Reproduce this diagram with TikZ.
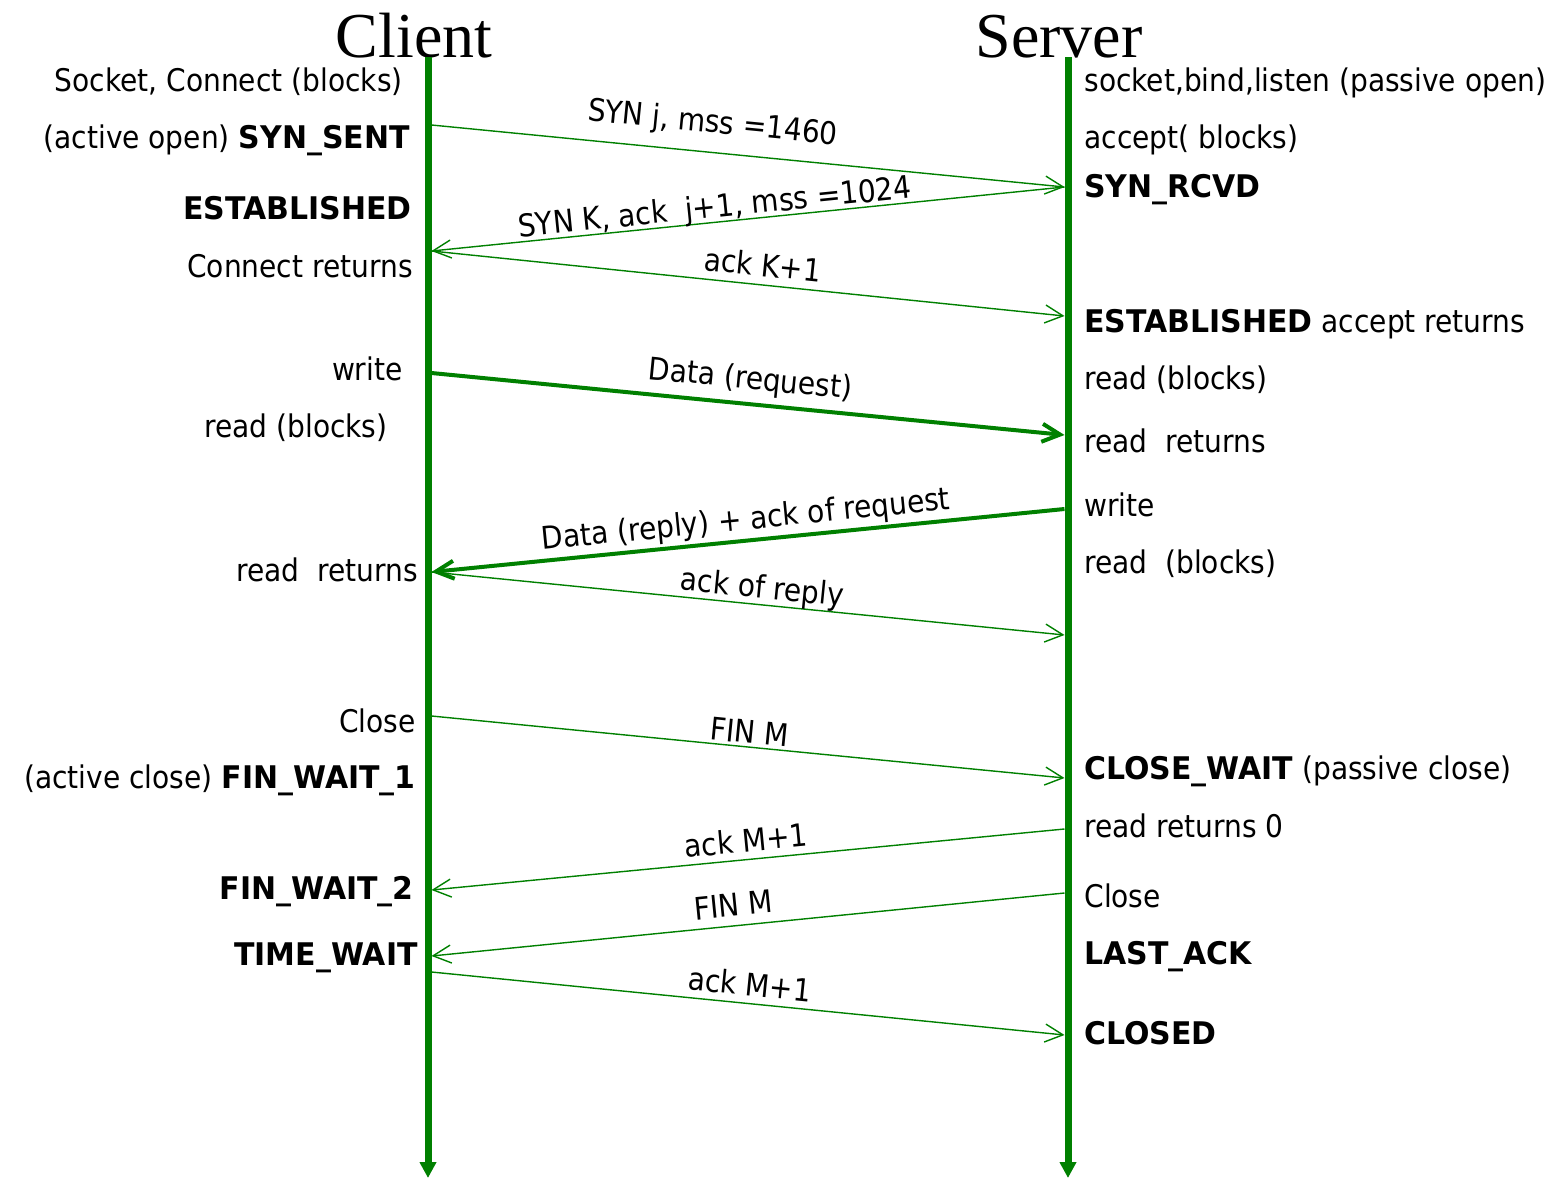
\documentclass[tikz,border=0pt]{standalone}
\usepackage{fontspec}
\setmainfont{DejaVu Sans Condensed}[BoldFont={DejaVu Sans Bold},BoldFeatures={FakeStretch=0.96}]
\newfontfamily\headfont{Liberation Serif}
\usetikzlibrary{arrows.meta}
\definecolor{seqgreen}{RGB}{0,128,0}
\tikzset{
  life/.style={draw=seqgreen,line width=3.5pt,-{Triangle[length=8pt,width=8pt]}},
  msg/.style={draw=seqgreen,line width=0.7pt,-{Straight Barb[length=9pt,width=9pt]}},
  bigmsg/.style={msg,line width=2pt},
  txt/.style={inner sep=0pt,font=\fontsize{15.6}{18}\selectfont},
  head/.style={inner sep=0pt,anchor=base,font=\headfont\fontsize{32}{36}\selectfont},
  cstate/.style={txt,anchor=base east},
  sstate/.style={txt,anchor=base west},
  lab/.style={txt,sloped,text depth=0pt,above=#1},
  lab/.default=3.5pt
}
\begin{document}
\begin{tikzpicture}[x=0.5pt,y=-0.5pt]
  \useasboundingbox (0,0) rectangle (1560,1178);

  \node[head] (client) at (414,57) {Client};
  \node[head] (server) at (1059,57) {Server};

  \coordinate (ctop) at (428,57);  \coordinate (cbot) at (428,1178);
  \coordinate (stop) at (1068,57); \coordinate (sbot) at (1068,1178);
  \draw[life] (ctop) -- (cbot);
  \draw[life] (stop) -- (sbot);

  \foreach \n/\y in {1/125,2/251,3/373,4/572,5/716,6/890,7/956,8/972}
    \coordinate (c\n) at (431.5,\y);
  \foreach \n/\y in {1/187,2/316,3/435,4/509,5/635,6/778,7/829,8/893,9/1035}
    \coordinate (s\n) at (1064.5,\y);

  \draw[msg] (c1) -- node[lab=9.5pt,pos=.44] {SYN j, mss =1460} (s1);
  \draw[msg] (s1) -- node[lab=2pt,pos=.55] {SYN K, ack\ \ j+1, mss =1024} (c2);
  \draw[msg] (c2) -- node[lab=4pt,pos=.52] {ack K+1} (s2);
  \draw[bigmsg] (c3) -- node[lab=6.5pt,pos=.5] {Data (request)} (s3);
  \draw[bigmsg] (s4) -- node[lab=4.5pt,pos=.5] {Data (reply) + ack of request} (c4);
  \draw[msg] (c4) -- node[lab=3pt,pos=.52] {ack of reply} (s5);
  \draw[msg] (c5) -- node[lab=1.5pt,pos=.5] {FIN M} (s6);
  \draw[msg] (s7) -- node[lab,pos=.5] {ack M+1} (c6);
  \draw[msg] (s8) -- node[lab=4.5pt,pos=.52] {FIN M} (c7);
  \draw[msg] (c8) -- node[lab,pos=.5] {ack M+1} (s9);

  \foreach \n/\y/\x/\t in {
      1/91/403/{Socket, Connect (blocks)},
      2/148/410/{(active open) \textbf{SYN\_SENT}},
      3/219/412/{\textbf{ESTABLISHED}},
      4/277/413/{Connect returns},
      5/380/403/{write},
      6/437/388/{read (blocks)},
      7/581/418/{read\ \ returns},
      8/732/416/{Close},
      9/788/416/{(active close) \textbf{FIN\_WAIT\_1}},
      10/899/414/{\textbf{FIN\_WAIT\_2}},
      11/965/418/{\textbf{TIME\_WAIT}}}
    \node[cstate] (cs\n) at (\x,\y) {\t};

  \foreach \n/\y/\t in {
      1/91/{socket,bind,listen (passive open)},
      2/148/{accept( blocks)},
      3/197/{\textbf{SYN\_RCVD}},
      4/332/{\textbf{ESTABLISHED} accept returns},
      5/389/{read (blocks)},
      6/452/{read\ \ returns},
      7/516/{write},
      8/573/{read\ \ (blocks)},
      9/779/{\textbf{CLOSE\_WAIT} (passive close)},
      10/837/{read returns 0},
      11/907/{Close},
      12/964/{\textbf{LAST\_ACK}},
      13/1044/{\textbf{CLOSED}}}
    \node[sstate] (ss\n) at (1084,\y) {\t};
\end{tikzpicture}
\end{document}
